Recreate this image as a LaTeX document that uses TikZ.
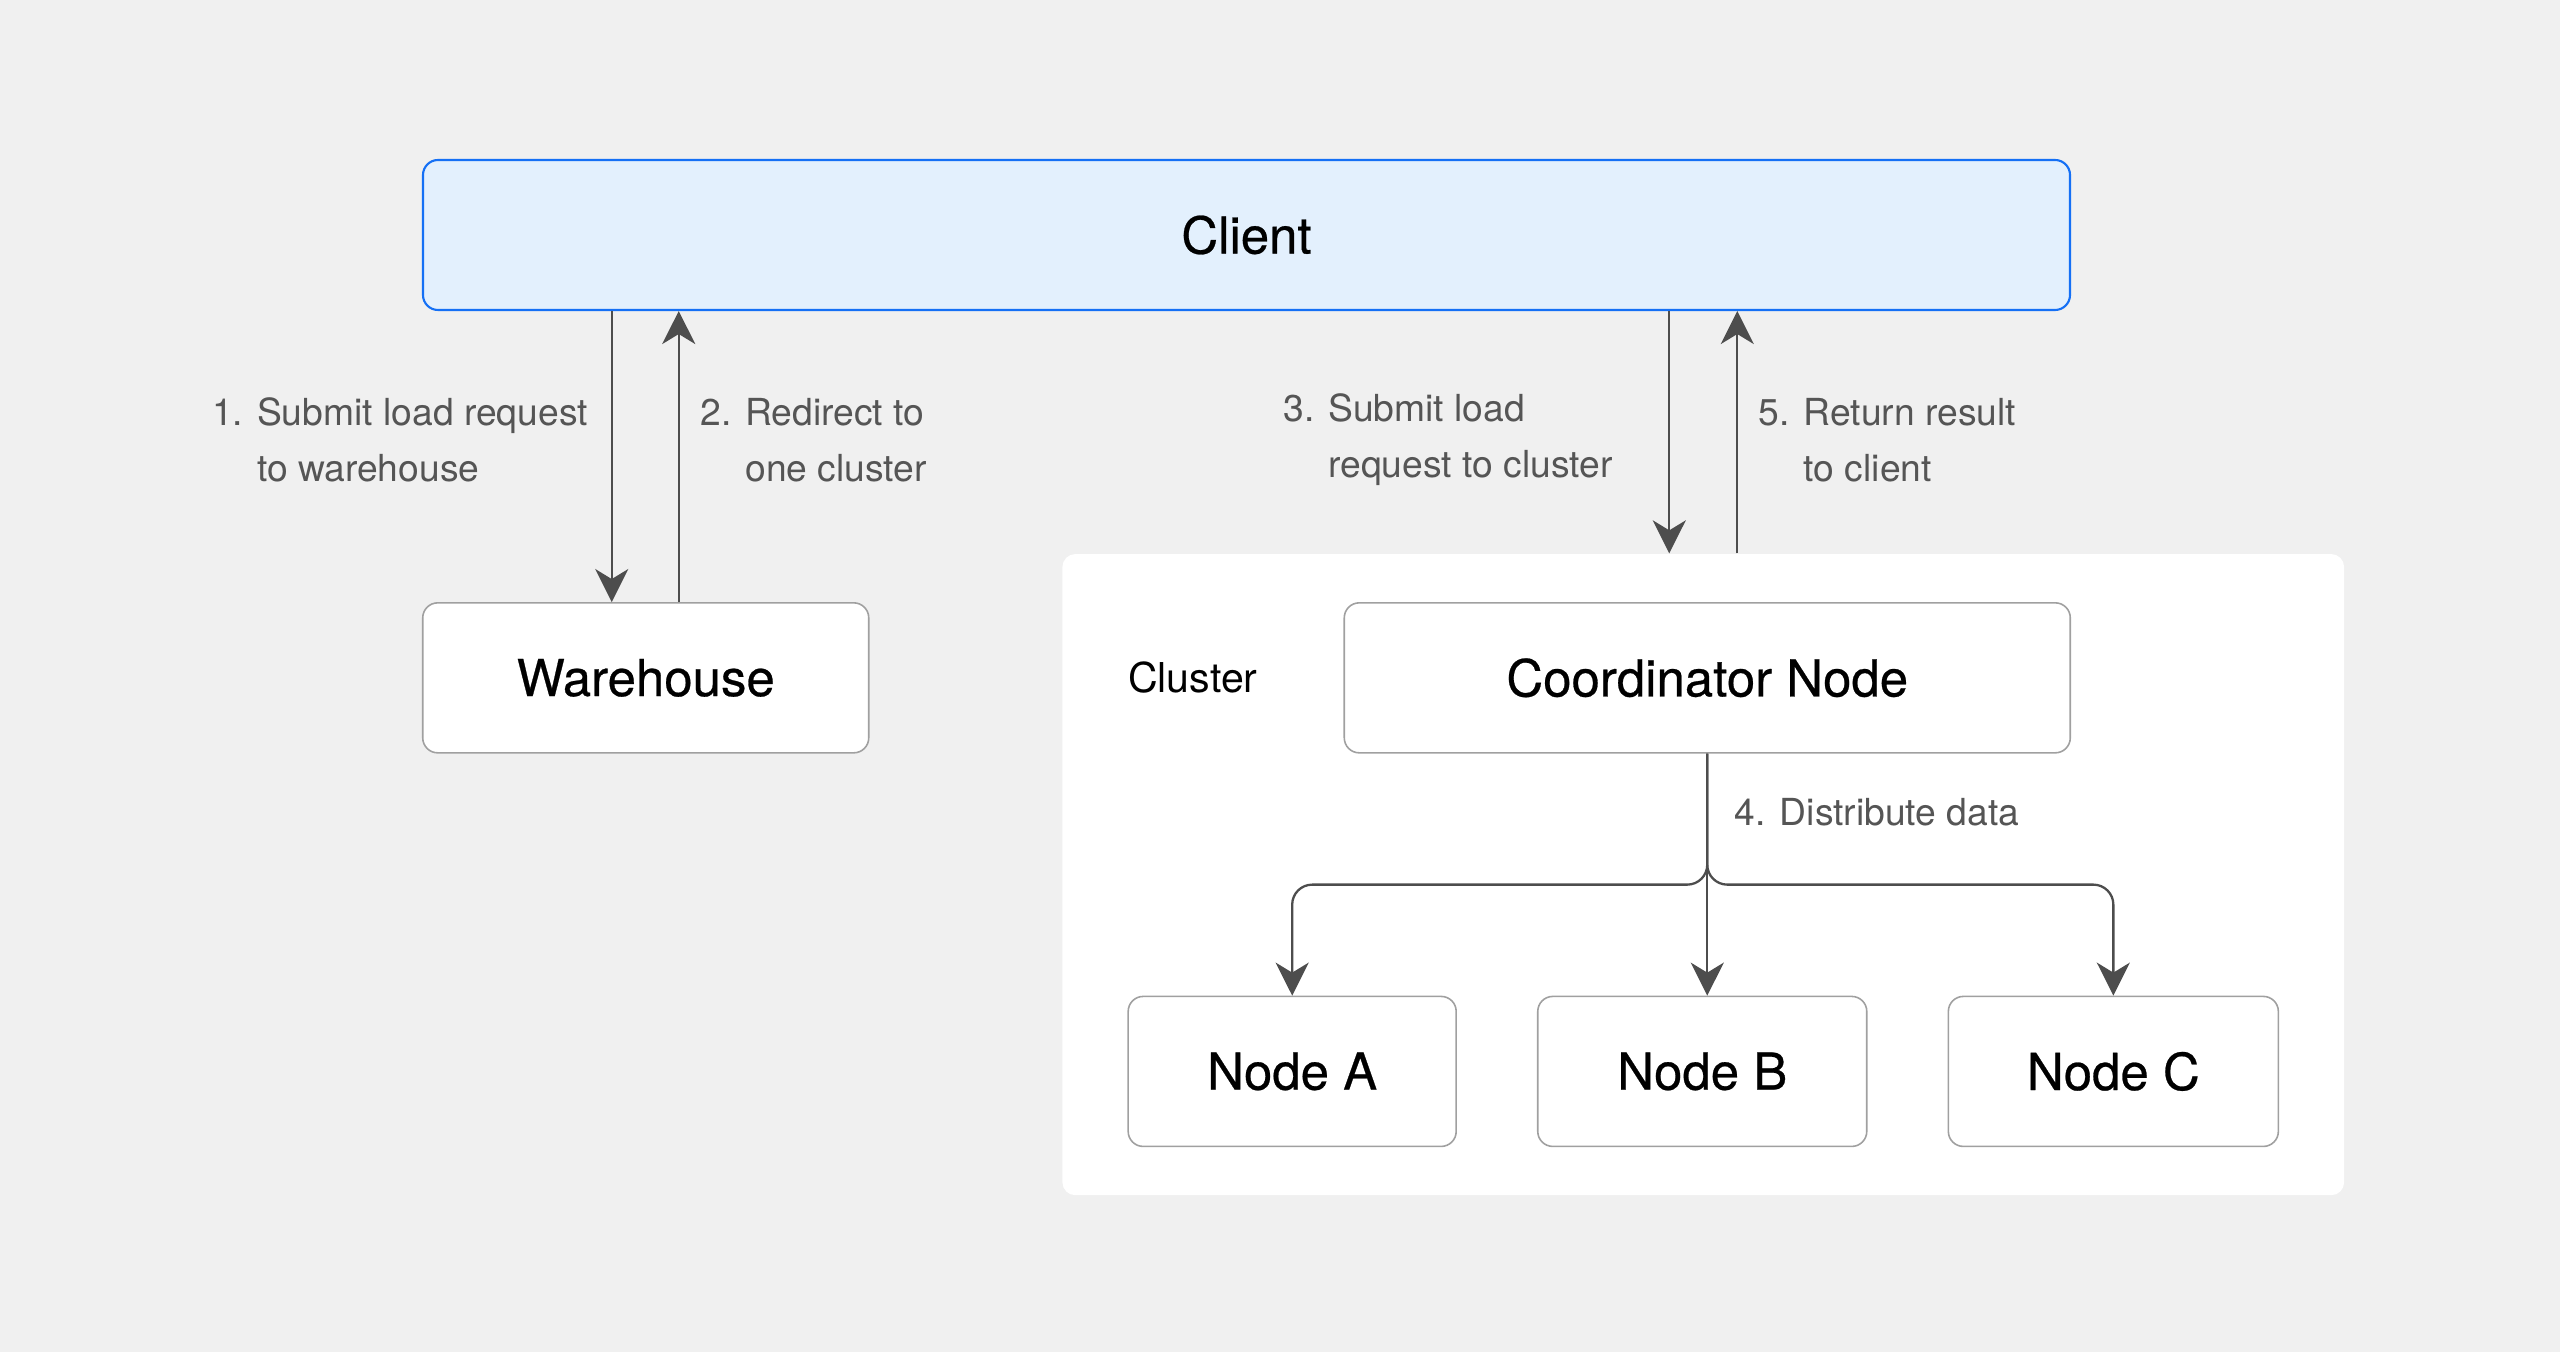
\documentclass[tikz,border=0pt]{standalone}
\usepackage{fontspec}
\setmainfont{TeX Gyre Heros}
\newfontfamily\boxfont{TeX Gyre Heros}[FakeBold=0.5]
\usepackage{xcolor}
\usetikzlibrary{arrows.meta, positioning, fit, backgrounds}
\definecolor{pagebg}{HTML}{F0F0F0}
\definecolor{clientfill}{HTML}{E3F0FD}
\definecolor{clientline}{HTML}{1570F5}
\definecolor{boxline}{HTML}{A0A0A0}
\definecolor{arrowgray}{HTML}{4D4D4D}
\definecolor{labelgray}{HTML}{555555}

\begin{document}
\begin{tikzpicture}[
    node distance=0.8cm,
    box/.style={draw=boxline, line width=0.45pt, fill=white, rounded corners=1.5mm, minimum height=1.5cm, inner sep=0pt, align=center, font=\boxfont\fontsize{14.5}{17}\selectfont},
    steplabel/.style={align=left, inner sep=0pt, text=labelgray, font=\fontsize{10.6}{15.9}\selectfont},
    arrow/.style={-{Stealth[length=3.3mm, width=3.3mm, inset=1mm]}, draw=arrowgray, line width=0.65pt}
]

\useasboundingbox (0,0) rectangle (25.6,-13.52);

\node[box, fill=clientfill, draw=clientline, line width=0.6pt, minimum width=16.47cm] (client) at (12.465,-2.35) {Client};
\node[box, minimum width=4.46cm, below right=2.91cm and 0cm of client.south west] (warehouse) {Warehouse};
\node[box, minimum width=7.26cm, below left=2.91cm and 0cm of client.south east] (coord) {Coordinator Node};
\node[box, minimum width=3.29cm, below=2.42cm of coord, xshift=-0.05cm] (nodeB) {Node B};
\node[box, minimum width=3.28cm, left=of nodeB] (nodeA) {Node A};
\node[box, minimum width=3.30cm, right=of nodeB] (nodeC) {Node C};

% page and cluster area
\begin{scope}[on background layer]
    \fill[pagebg] (0,0) rectangle (25.6,-13.52);
    \node[fill=white, rounded corners=1.3mm, inner xsep=0.65cm, inner ysep=0.48cm, fit=(coord)(nodeA)(nodeC)] (cluster) {};
\end{scope}
\node[anchor=west, inner sep=0pt, font=\fontsize{11.7}{14}\selectfont] (clusterlabel) at (nodeA.west |- coord) {Cluster};

% client <-> warehouse
\draw[arrow] ([xshift=-3.4mm]warehouse.north |- client.south) -- ([xshift=-3.4mm]warehouse.north);
\draw[arrow] ([xshift=3.3mm]warehouse.north) -- ([xshift=3.3mm]warehouse.north |- client.south);
\node[steplabel, anchor=east] (submitwh) at ([xshift=-5.7mm, yshift=16.2mm]warehouse.north) {1. Submit load request\\\phantom{1. }to warehouse};
\node[steplabel, anchor=west] (redirect) at ([xshift=5.4mm, yshift=16.2mm]warehouse.north) {2. Redirect to\\\phantom{2. }one cluster};

% client <-> cluster
\draw[arrow] ([xshift=-3.8mm]coord.north |- client.south) -- ([xshift=-3.8mm]coord.north |- cluster.north);
\draw[arrow] ([xshift=3.0mm]coord.north |- cluster.north) -- ([xshift=3.0mm]coord.north |- client.south);
\node[steplabel, anchor=east] (submitcl) at ([xshift=-9.4mm, yshift=16.2mm]coord.north) {3. Submit load\\\phantom{3. }request to cluster};
\node[steplabel, anchor=west] (result) at ([xshift=5.1mm, yshift=16.2mm]coord.north) {5. Return result\\\phantom{5. }to client};

% distribute
\draw[arrow, rounded corners=2mm] (coord.south) -- ++(0,-1.31) -| (nodeA.north);
\draw[arrow] (coord.south) -- (coord.south |- nodeB.north);
\draw[arrow, rounded corners=2mm] (coord.south) -- ++(0,-1.31) -| (nodeC.north);
\node[steplabel, anchor=west] (distribute) at ([xshift=2.7mm, yshift=-5.9mm]coord.south) {4. Distribute data};

\end{tikzpicture}
\end{document}
